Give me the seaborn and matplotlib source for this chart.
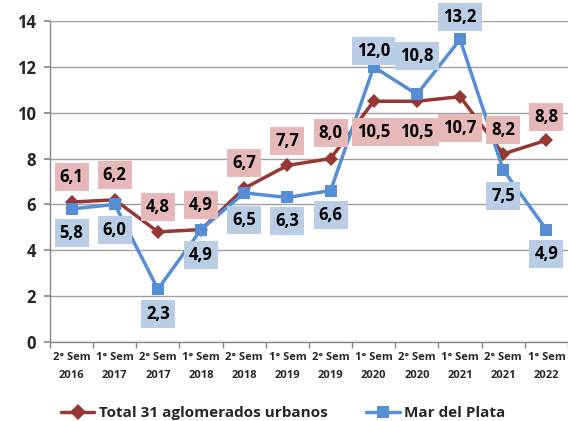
import matplotlib
matplotlib.use("Agg")
import matplotlib.pyplot as plt
import seaborn as sns
import pandas as pd
import numpy as np

categories = ["2° Sem\n2016", "1° Sem\n2017", "2° Sem\n2017", "1° Sem\n2018", "2° Sem\n2018",
              "1° Sem\n2019", "2° Sem\n2019", "1° Sem\n2020", "2° Sem\n2020", "1° Sem\n2021",
              "2° Sem\n2021", "1° Sem\n2022"]
total = [6.1, 6.2, 4.8, 4.9, 6.7, 7.7, 8.0, 10.5, 10.5, 10.7, 8.2, 8.8]
mdp = [5.8, 6.0, 2.3, 4.9, 6.5, 6.3, 6.6, 12.0, 10.8, 13.2, 7.5, 4.9]
series_names = ["Total 31 aglomerados urbanos", "Mar del Plata"]

# label offsets (pixels, positive = above the point)
total_off = [25, 25, 25, 25, 25, 24, 26, -31, -31, -31, 24, 23]
mdp_off = [-24, -26, -25, -25, -27, -24, -24, 16, 38, 22, -26, -24]

sns.set_theme(style="white")
plt.rcParams["font.family"] = ["Open Sans", "DejaVu Sans"]
plt.rcParams["font.weight"] = "bold"

df = pd.DataFrame({
    "x": list(range(len(categories))) * 2,
    "valor": total + mdp,
    "serie": [series_names[0]] * len(total) + [series_names[1]] * len(mdp),
})

red = "#953735"
blue = "#558ED5"
fig = plt.figure(figsize=(5.68, 4.21), dpi=100)
ax = fig.add_axes([0.088, 0.188, 0.912, 0.762])

sns.lineplot(data=df, x="x", y="valor", hue="serie", style="serie",
             palette=[red, blue], markers=["D", "s"], dashes=False,
             markersize=8, linewidth=2.5, markeredgewidth=0, ax=ax, legend=True)
lines = ax.get_lines()
lines[0].set_markersize(7)
lines[1].set_markersize(9)

def annotate(vals, offs, fc):
    for i, (v, off) in enumerate(zip(vals, offs)):
        ax.annotate(f"{v:.1f}".replace(".", ","), (i, v), xytext=(0, off),
                    textcoords="offset pixels", ha="center", va="center",
                    fontsize=12, fontweight="bold", color="black",
                    bbox=dict(boxstyle="square,pad=0.3", fc=fc, ec="none"))

annotate(total, total_off, "#E6B9B8")
annotate(mdp, mdp_off, "#B9CDE5")

ax.set_xlim(-0.5, len(categories) - 0.5)
ax.set_ylim(0, 14)
ax.set_yticks(np.arange(0, 15, 2))
ax.set_xticks(range(len(categories)))
ax.set_xticklabels(categories, fontsize=8, fontweight="bold", linespacing=1.9)
ax.tick_params(axis="x", length=0, pad=7)
ax.set_xticks(np.arange(-0.5, len(categories), 1), minor=True)
ax.tick_params(axis="x", which="minor", length=4, color="#888888", direction="out", bottom=True)
ax.tick_params(axis="y", labelsize=12, length=4, color="#888888", direction="out", left=True, pad=6)
for t in ax.get_yticklabels():
    t.set_fontweight("bold")
ax.set_xlabel("")
ax.set_ylabel("")
ax.yaxis.grid(True, color="#A0A0A0", linewidth=1)
ax.xaxis.grid(False)
for s in ["top", "right"]:
    ax.spines[s].set_visible(False)
for s in ["left", "bottom"]:
    ax.spines[s].set_color("#888888")
    ax.spines[s].set_linewidth(1)

handles, labels = ax.get_legend_handles_labels()
ax.legend(handles, labels, loc="lower center", bbox_to_anchor=(0.45, -0.287), ncol=2,
          frameon=False, prop={"weight": "bold", "size": 11}, handlelength=2.2,
          columnspacing=2.5, handletextpad=0.3)

fig.savefig("out.png", dpi=100)
